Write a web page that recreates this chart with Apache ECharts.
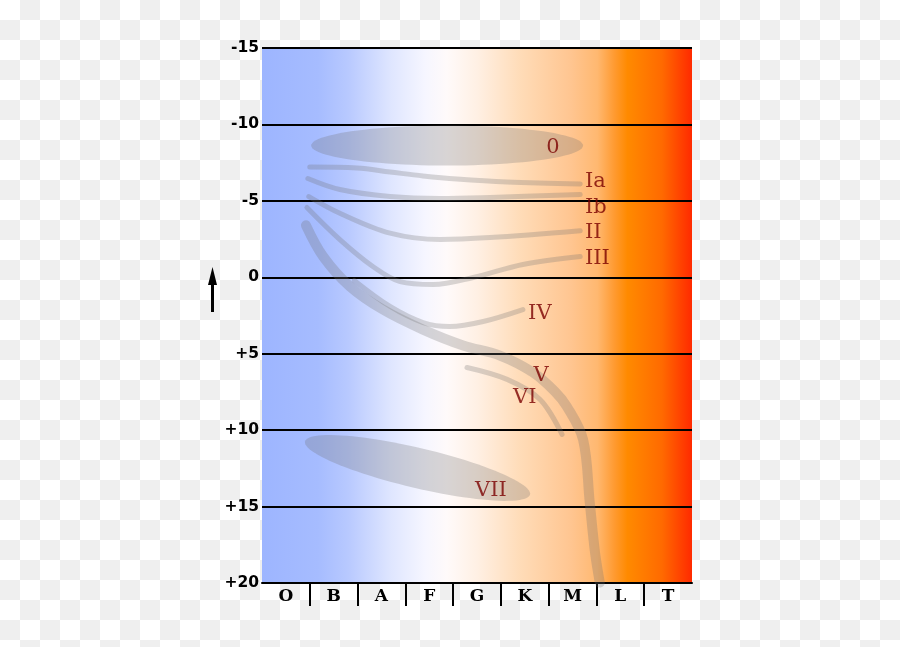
<!DOCTYPE html>
<html>
<head>
<meta charset="utf-8">
<script src="https://cdn.jsdelivr.net/npm/echarts@6/dist/echarts.min.js"></script>
<style>
  html, body { margin: 0; padding: 0; }
  body {
    width: 900px; height: 647px;
    background: repeating-conic-gradient(#efefef 0 25%, #ffffff 0 50%) 0 0 / 40px 40px;
  }
  #chart { width: 900px; height: 647px; }
</style>
</head>
<body>
<div id="chart"></div>
<script>
// Spectral classes (x axis) and absolute magnitude ticks (y axis)
const spectralClasses = ['O', 'B', 'A', 'F', 'G', 'K', 'M', 'L', 'T'];
const magnitudeTicks = [-15, -10, -5, 0, 5, 10, 15, 20];

// Luminosity class tracks: [spectral position, absolute magnitude]
const classIa = [[1.00, -7.21], [1.99, -7.15], [2.68, -6.89], [3.37, -6.63], [4.08, -6.43], [5.13, -6.24], [6.66, -6.11]];
const classIb = [[0.96, -6.46], [1.63, -5.74], [2.68, -5.28], [3.73, -5.15], [4.77, -5.22], [6.66, -5.42]];
const classII = [[0.98, -5.28], [1.63, -4.19], [2.68, -2.89], [3.73, -2.47], [4.77, -2.60], [6.66, -3.05]];
const classIII = [[0.94, -4.57], [1.63, -2.47], [2.32, -0.71], [2.89, 0.28], [3.58, 0.47], [4.42, 0.01], [5.46, -0.84], [6.66, -1.36]];
const classIV = [[1.93, 0.21], [2.68, 1.91], [3.37, 2.96], [3.93, 3.22], [4.63, 2.89], [5.46, 2.11]];
const classV = [[0.92, -3.40], [1.28, -1.36], [1.84, 0.60], [2.53, 2.11], [3.37, 3.42], [4.21, 4.46], [4.98, 5.12], [5.67, 6.22], [6.13, 7.47], [6.38, 8.45], [6.72, 10.61], [6.86, 14.73], [6.97, 18.00], [7.07, 19.97]];
const classVI = [[4.29, 5.90], [5.13, 6.68], [5.82, 7.99], [6.28, 10.28]];

// Regions drawn as ellipses: [x1, y1, x2, y2, half width in magnitudes]
const class0Region = [1.03, -8.62, 6.72, -8.62, 1.31];
const classVIIRegion = [0.90, 10.74, 5.61, 14.21, 1.31];

// Class labels: [x, y, text, align]
const classLabels = [
  [6.09, -8.50, '0', 'center'],
  [6.76, -6.28, 'Ia', 'left'],
  [6.76, -4.58, 'Ib', 'left'],
  [6.76, -2.90, 'II', 'left'],
  [6.76, -1.23, 'III', 'left'],
  [5.57, 2.37, 'IV', 'left'],
  [5.84, 6.42, 'V', 'center'],
  [5.50, 7.86, 'VI', 'center'],
  [4.79, 13.94, 'VII', 'center']
];

const bandColor = 'rgba(110,110,110,0.27)';

function track(data, width) {
  return {
    type: 'line', data: data, smooth: 0.35, symbol: 'none', silent: true,
    lineStyle: { color: bandColor, width: width, cap: 'round', join: 'round' },
    z: 3
  };
}

const chart = echarts.init(document.getElementById('chart'), null, { renderer: 'canvas' });

const gradient = new echarts.graphic.LinearGradient(0, 0, 1, 0, [
  { offset: 0.00, color: '#9db5ff' },
  { offset: 0.13, color: '#a6bcff' },
  { offset: 0.20, color: '#b8c9ff' },
  { offset: 0.30, color: '#dfe6ff' },
  { offset: 0.38, color: '#f6f6ff' },
  { offset: 0.43, color: '#fffafa' },
  { offset: 0.50, color: '#fff0e4' },
  { offset: 0.60, color: '#ffdcb8' },
  { offset: 0.72, color: '#ffc590' },
  { offset: 0.78, color: '#ffb870' },
  { offset: 0.82, color: '#ff9a30' },
  { offset: 0.85, color: '#ff8a00' },
  { offset: 0.93, color: '#ff6a00' },
  { offset: 1.00, color: '#ff2a00' }
]);

chart.setOption({
  animation: false,
  backgroundColor: 'transparent',
  grid: {
    left: 262, right: 208, top: 48, bottom: 64,
    show: true, backgroundColor: gradient, borderWidth: 0
  },
  xAxis: {
    type: 'value', min: 0, max: spectralClasses.length,
    axisLine: { show: true, onZero: false, lineStyle: { color: '#000', width: 2 } },
    axisTick: {
      show: true, length: 23, inside: false,
      customValues: spectralClasses.slice(1).map((c, i) => i + 1),
      lineStyle: { color: '#000', width: 2 }
    },
    axisLabel: {
      customValues: spectralClasses.map((c, i) => i + 0.5),
      formatter: v => spectralClasses[Math.round(v - 0.5)],
      margin: 5, color: '#000',
      fontFamily: 'DejaVu Serif', fontWeight: 'bold', fontSize: 17
    },
    splitLine: { show: false }
  },
  yAxis: {
    type: 'value', inverse: true,
    min: magnitudeTicks[0], max: magnitudeTicks[magnitudeTicks.length - 1], interval: 5,
    axisLine: { show: false },
    axisTick: { show: false },
    axisLabel: {
      formatter: v => (v > 0 ? '+' + v : String(v)),
      margin: 3, color: '#000',
      fontFamily: 'DejaVu Sans', fontWeight: 'bold', fontSize: 15.5
    },
    splitLine: { show: true, lineStyle: { color: '#000', width: 2 } }
  },
  graphic: [
    {
      type: 'line', shape: { x1: 212.5, y1: 312, x2: 212.5, y2: 282 },
      style: { stroke: '#000', lineWidth: 3 }
    },
    {
      type: 'polygon', shape: { points: [[212.5, 267], [208, 285], [217, 285]] },
      style: { fill: '#000' }
    }
  ],
  series: [
    {
      type: 'custom',
      data: [class0Region, classVIIRegion],
      encode: { x: [0, 2], y: [1, 3] },
      silent: true, z: 2,
      renderItem: function (params, api) {
        const p1 = api.coord([api.value(0), api.value(1)]);
        const p2 = api.coord([api.value(2), api.value(3)]);
        const b = Math.abs(api.size([0, api.value(4)])[1]);
        const cx = (p1[0] + p2[0]) / 2, cy = (p1[1] + p2[1]) / 2;
        const a = Math.hypot(p2[0] - p1[0], p2[1] - p1[1]) / 2;
        const th = Math.atan2(p2[1] - p1[1], p2[0] - p1[0]);
        const pts = [];
        for (let i = 0; i < 96; i++) {
          const t = i / 96 * Math.PI * 2;
          pts.push([
            cx + a * Math.cos(t) * Math.cos(th) - b * Math.sin(t) * Math.sin(th),
            cy + a * Math.cos(t) * Math.sin(th) + b * Math.sin(t) * Math.cos(th)
          ]);
        }
        return { type: 'polygon', shape: { points: pts }, style: { fill: bandColor } };
      }
    },
    track(classIa, 5),
    track(classIb, 5),
    track(classII, 5),
    track(classIII, 5),
    track(classIV, 5),
    track(classV, 10),
    track(classVI, 5),
    {
      type: 'scatter',
      data: classLabels.map(d => ({
        value: [d[0], d[1]], name: d[2],
        label: { align: d[3], verticalAlign: 'middle' }
      })),
      symbolSize: 0, silent: true, z: 5,
      label: {
        show: true, position: 'inside',
        formatter: p => p.name,
        color: '#7a0000', fontFamily: 'DejaVu Serif', fontSize: 21
      }
    }
  ]
});
</script>
</body>
</html>
